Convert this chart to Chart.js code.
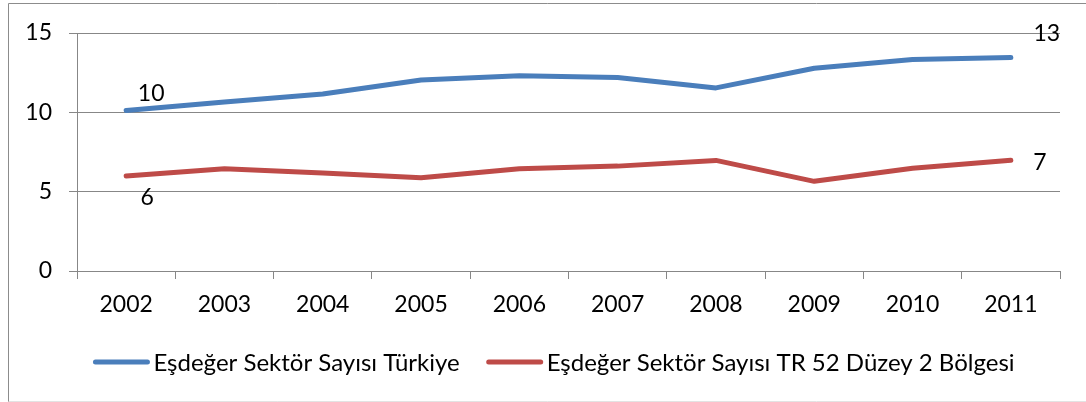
<!DOCTYPE html>
<html>
<head>
<meta charset="utf-8">
<style>
  html, body { margin: 0; padding: 0; background: #ffffff; }
  #wrap { position: relative; width: 1086px; height: 402px; }
</style>
<script src="https://cdn.jsdelivr.net/npm/chart.js@4.4.1/dist/chart.umd.min.js"></script>
</head>
<body>
<div id="wrap"><canvas id="c" width="1086" height="402"></canvas></div>
<script>
const years = ['2002', '2003', '2004', '2005', '2006', '2007', '2008', '2009', '2010', '2011'];
const turkiye = [10.12, 10.65, 11.16, 12.04, 12.31, 12.2, 11.54, 12.78, 13.33, 13.45];
const tr52 = [5.99, 6.45, 6.17, 5.88, 6.45, 6.61, 6.97, 5.65, 6.47, 6.98];
const seriesNames = ['Eşdeğer Sektör Sayısı Türkiye', 'Eşdeğer Sektör Sayısı TR 52 Düzey 2 Bölgesi'];
const yTicks = [0, 5, 10, 15];
const labeledPoints = [0, 9];

const FONT = 'Lato, "Open Sans", sans-serif';
const GRID = '#878787';

const framePlugin = {
  id: 'frame',
  beforeDraw(chart) {
    const ctx = chart.ctx;
    ctx.save();
    ctx.fillStyle = '#ffffff';
    ctx.fillRect(0, 0, chart.width, chart.height);
    ctx.strokeStyle = '#8c8c8c';
    ctx.lineWidth = 1;
    ctx.beginPath();
    ctx.moveTo(8.5, chart.height);
    ctx.lineTo(8.5, 3.5);
    ctx.lineTo(chart.width, 3.5);
    ctx.stroke();
    ctx.strokeStyle = '#e3e3e3';
    ctx.beginPath();
    ctx.moveTo(8.5, chart.height - 0.5);
    ctx.lineTo(chart.width, chart.height - 0.5);
    ctx.stroke();
    ctx.restore();
  }
};

const labelOffsets = [
  { first: [25, -17], last: [36, -24] },
  { first: [21, 22], last: [29, 2] }
];

const dataLabelPlugin = {
  id: 'pointLabels',
  afterDatasetsDraw(chart) {
    const ctx = chart.ctx;
    ctx.save();
    ctx.font = '23px ' + FONT;
    ctx.fillStyle = '#000000';
    ctx.textAlign = 'center';
    ctx.textBaseline = 'middle';
    chart.data.datasets.forEach((ds, di) => {
      const meta = chart.getDatasetMeta(di);
      labeledPoints.forEach((idx, k) => {
        const pt = meta.data[idx];
        const off = k === 0 ? labelOffsets[di].first : labelOffsets[di].last;
        ctx.fillText(String(Math.round(ds.data[idx])), pt.x + off[0], pt.y + off[1]);
      });
    });
    ctx.restore();
  }
};

const legendPlugin = {
  id: 'lineLegend',
  afterDraw(chart) {
    const ctx = chart.ctx;
    ctx.save();
    ctx.font = '24px ' + FONT;
    const sample = 56, gapText = 4, gapItems = 27, y = 362;
    const items = chart.data.datasets.map(ds => ({
      label: ds.label, color: ds.borderColor, w: sample + gapText + ctx.measureText(ds.label).width
    }));
    const total = items.reduce((s, it) => s + it.w, 0) + gapItems * (items.length - 1);
    let x = 554 - total / 2;
    items.forEach(it => {
      ctx.strokeStyle = it.color;
      ctx.lineWidth = 5;
      ctx.lineCap = 'round';
      ctx.beginPath();
      ctx.moveTo(x + 2, y);
      ctx.lineTo(x + sample - 2, y);
      ctx.stroke();
      ctx.fillStyle = '#000000';
      ctx.textAlign = 'left';
      ctx.textBaseline = 'middle';
      ctx.fillText(it.label, x + sample + gapText, y + 1);
      x += it.w + gapItems;
    });
    ctx.restore();
  }
};

new Chart(document.getElementById('c'), {
  type: 'line',
  data: {
    labels: years,
    datasets: [
      { label: seriesNames[0], data: turkiye, borderColor: '#4A7EBB', backgroundColor: '#4A7EBB',
        borderWidth: 5, pointRadius: 0, borderJoinStyle: 'round', borderCapStyle: 'round', tension: 0 },
      { label: seriesNames[1], data: tr52, borderColor: '#BE4B48', backgroundColor: '#BE4B48',
        borderWidth: 5, pointRadius: 0, borderJoinStyle: 'round', borderCapStyle: 'round', tension: 0 }
    ]
  },
  options: {
    responsive: false,
    animation: false,
    devicePixelRatio: 1,
    layout: { padding: { left: 0, top: 33, right: 26, bottom: 0 } },
    plugins: {
      legend: { display: false },
      tooltip: { enabled: false },
      title: { display: false }
    },
    scales: {
      x: {
        type: 'category',
        offset: true,
        grid: { display: true, offset: true, drawOnChartArea: false, drawTicks: true, tickLength: 8, color: GRID, lineWidth: 1 },
        border: { display: true, color: GRID, width: 1 },
        ticks: { color: '#000000', font: { family: FONT, size: 23 }, padding: 12, maxRotation: 0, autoSkip: false },
        afterFit(scale) { scale.height = 131; }
      },
      y: {
        min: 0,
        max: 15,
        afterBuildTicks(scale) { scale.ticks = yTicks.map(v => ({ value: v })); },
        grid: { color: GRID, lineWidth: 1, drawTicks: true, tickLength: 8 },
        border: { display: true, color: GRID, width: 1 },
        ticks: { color: '#000000', font: { family: FONT, size: 23 }, padding: 17 },
        afterFit(scale) { scale.width = 77; }
      }
    }
  },
  plugins: [framePlugin, dataLabelPlugin, legendPlugin]
});
</script>
</body>
</html>
